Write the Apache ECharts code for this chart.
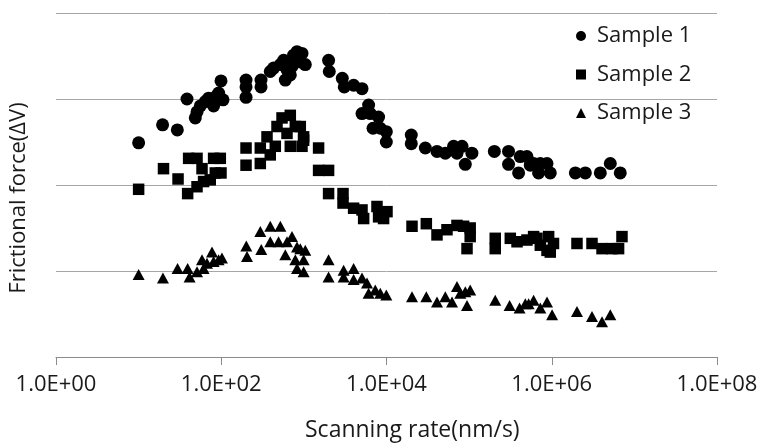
<!DOCTYPE html>
<html><head><meta charset="utf-8">
<script src="https://cdn.jsdelivr.net/npm/echarts@6/dist/echarts.min.js"></script>
<style>html,body{margin:0;padding:0;background:#fff}#c{width:763px;height:445px}</style>
</head><body><div id="c"></div>
<script>
// ---- data ----
const seriesNames = ['Sample 1', 'Sample 2', 'Sample 3'];
const xTickLabels = ['1.0E+00', '1.0E+02', '1.0E+04', '1.0E+06', '1.0E+08'];
const xTitle = 'Scanning rate(nm/s)';
const yTitle = 'Frictional force(ΔV)';

const s1x = [10,19.5,29.4,38.5,48.5,50.9,55.8,64.1,70.3,80.8,87.1,92.9,105,99.3,199.5,199.5,199.5,303,303,392,430,519,569,596,625,685,718,751,826,949,1040,905,1991,2031,2917,3083,3999,5054,6073,5054,6368,8021,6871,8414,9950,9950,19950,19950,29500,40850,51500,64900,71300,82000,89900,108000,202000,300000,300000,397000,416000,501000,550000,693000,727000,876000,960000,1930000,2550000,3870000,5110000,6750000,604000];
const s1y = [2.49,2.70,2.64,3.00,2.78,2.85,2.92,2.97,3.01,2.92,3.03,3.07,2.99,3.21,3.22,3.14,3.02,3.22,3.14,3.32,3.36,3.40,3.45,3.22,3.34,3.28,3.38,3.51,3.55,3.53,3.40,3.43,3.45,3.32,3.24,3.14,3.16,3.12,2.93,2.83,2.83,2.79,2.66,2.66,2.62,2.50,2.58,2.48,2.43,2.39,2.37,2.45,2.37,2.45,2.24,2.37,2.39,2.39,2.24,2.14,2.33,2.33,2.23,2.14,2.25,2.25,2.14,2.14,2.14,2.14,2.25,2.14,2.25];

const s2x = [10,20,30,39.2,40.3,50.9,50.9,58.5,61.1,73.6,80.8,97.4,84.7,99.3,199.5,199.5,297,297,358,392,451,473,544,685,788,905,993,685,949,625,993,1507,1507,1991,1991,2977,2977,4000,5054,5290,7670,8021,10140,9220,20360,30340,40850,53950,71300,85700,103000,103000,94300,207000,207000,315000,380000,501000,663000,727000,876000,917000,603000,1050000,2020000,3070000,4060000,5360000,6440000,7080000,960000];
const s2y = [1.95,2.19,2.07,1.90,2.31,2.31,1.98,2.19,2.04,2.06,2.31,2.31,2.14,2.14,2.43,2.23,2.43,2.25,2.56,2.35,2.45,2.68,2.78,2.81,2.68,2.68,2.56,2.45,2.45,2.60,2.52,2.43,2.17,2.17,1.90,1.90,1.79,1.73,1.71,1.61,1.75,1.63,1.69,1.61,1.52,1.55,1.42,1.48,1.53,1.52,1.50,1.40,1.26,1.38,1.26,1.38,1.34,1.36,1.38,1.30,1.24,1.40,1.40,1.32,1.32,1.32,1.26,1.26,1.26,1.40,1.22];

const s3x = [10,19.7,29.6,39.2,41.4,50.9,58.5,61.1,67.2,77.3,80.8,92.9,102,201,205,297,305,392,519,392,494,625,718,596,826,905,1040,788,993,826,993,1991,1991,3027,3027,4000,4000,5054,5810,6073,7310,8414,9950,20360,30340,40850,51500,62100,71300,78200,89900,103000,94300,207000,309000,408000,525000,603000,727000,876000,1010000,2020000,3070000,4060000,5110000,479000];
const s3y = [0.96,0.92,1.03,1.03,0.93,0.99,1.13,1.03,1.09,1.22,1.11,1.13,1.15,1.29,1.17,1.46,1.25,1.52,1.52,1.34,1.34,1.34,1.40,1.19,1.28,1.26,1.24,1.13,1.13,1.03,0.99,1.13,0.93,1.01,0.93,1.03,0.90,0.92,0.86,0.74,0.78,0.74,0.72,0.70,0.70,0.64,0.70,0.64,0.82,0.74,0.76,0.78,0.60,0.66,0.60,0.57,0.62,0.66,0.57,0.64,0.49,0.53,0.47,0.41,0.49,0.62];

// ---- chart ----
const FONT = '"Open Sans", sans-serif';
const pair = (xs, ys) => xs.map((x, i) => [x, ys[i]]);
const chart = echarts.init(document.getElementById('c'), null, {renderer: 'canvas'});
chart.setOption({
  animation: false,
  backgroundColor: '#fff',
  textStyle: {fontFamily: FONT},
  grid: {left: 56, right: 46, top: 13, bottom: 88, containLabel: false},
  legend: {
    orient: 'vertical', left: 576, top: 25, padding: 0, itemGap: 16.5,
    itemWidth: 10, itemHeight: 10,
    textStyle: {fontFamily: FONT, fontSize: 22, color: '#1a1a1a', lineHeight: 22, padding: [0, 0, 0, 6]},
    data: [
      {name: seriesNames[0], icon: 'circle'},
      {name: seriesNames[1], icon: 'rect'},
      {name: seriesNames[2], icon: 'triangle'}
    ]
  },
  xAxis: {
    type: 'log', logBase: 100, min: 1, max: 1e8,
    axisLine: {show: true, lineStyle: {color: '#8c8c8c', width: 1}},
    axisTick: {show: true, inside: false, length: 8, lineStyle: {color: '#8c8c8c'}},
    splitLine: {show: false},
    minorTick: {show: false},
    axisLabel: {
      show: true, margin: 17, color: '#1a1a1a', fontFamily: FONT, fontSize: 22,
      showMinLabel: true, showMaxLabel: true,
      formatter: v => xTickLabels[Math.round(Math.log10(v) / 2)] || ''
    }
  },
  yAxis: {
    type: 'value', min: 0, max: 4, interval: 1,
    axisLine: {show: false}, axisTick: {show: false}, axisLabel: {show: false},
    splitLine: {show: true, lineStyle: {color: '#a6a6a6', width: 1}}
  },
  graphic: [
    {type: 'text', left: 305, top: 419, style: {text: xTitle, font: '23px ' + FONT, fill: '#1a1a1a'}},
    {type: 'text', x: 8, y: 198, rotation: Math.PI / 2,
     style: {text: yTitle, font: '22px ' + FONT, fill: '#1a1a1a', align: 'center', verticalAlign: 'top'}}
  ],
  series: [
    {name: seriesNames[0], type: 'scatter', symbol: 'circle', symbolSize: 13,
     itemStyle: {color: '#000', opacity: 1}, data: pair(s1x, s1y)},
    {name: seriesNames[1], type: 'scatter', symbol: 'rect', symbolSize: 11.5,
     itemStyle: {color: '#000', opacity: 1}, data: pair(s2x, s2y)},
    {name: seriesNames[2], type: 'scatter', symbol: 'triangle', symbolSize: [12, 11],
     itemStyle: {color: '#000', opacity: 1}, data: pair(s3x, s3y)}
  ]
});
</script></body></html>
